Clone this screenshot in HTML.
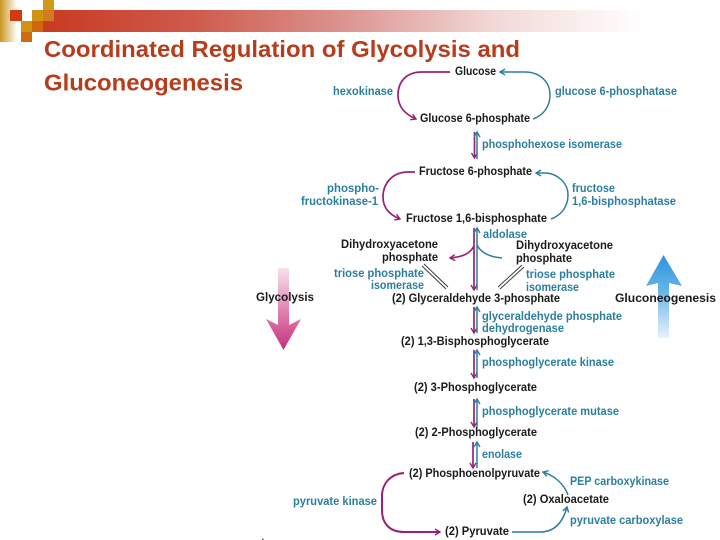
<!DOCTYPE html>
<html><head><meta charset="utf-8">
<style>
html,body{margin:0;padding:0;background:#fff}
svg{display:block;filter:blur(.3px)}
text{font-family:"Liberation Sans",sans-serif;font-weight:bold}
.b{font-size:11.6px;fill:#1a1a1a}
.t{font-size:11.6px;fill:#2b7f9e}
.h{font-size:23.500px;fill:#b63c1c}
.m{fill:none;stroke:#9b2176;stroke-width:1.7}
.c{fill:none;stroke:#2d7d9f;stroke-width:1.5}
.d{fill:none;stroke:#333;stroke-width:.9}
</style></head><body>
<svg width="720" height="540" viewBox="0 0 720 540" xmlns="http://www.w3.org/2000/svg">
<defs>
<linearGradient id="bar" x1="0" x2="1" y1="0" y2="0">
<stop offset="0" stop-color="#c93a22"/><stop offset=".25" stop-color="#cf5a4c"/><stop offset=".5" stop-color="#db9490"/><stop offset=".75" stop-color="#f2d8d6"/><stop offset="1" stop-color="#fff"/></linearGradient>
<linearGradient id="gold" x1="0" x2="1" y1="0" y2="0"><stop offset="0" stop-color="#c8961e"/><stop offset="1" stop-color="#fff"/></linearGradient>
<linearGradient id="pink" x1="0" x2="0" y1="0" y2="1"><stop offset="0" stop-color="#f6e3ec"/><stop offset=".6" stop-color="#dd74a8"/><stop offset="1" stop-color="#c2307e"/></linearGradient>
<linearGradient id="blue" x1="0" x2="0" y1="0" y2="1"><stop offset="0" stop-color="#2e93dc"/><stop offset=".4" stop-color="#62b2e6"/><stop offset="1" stop-color="#e6f3fb"/></linearGradient>
<marker id="am" markerWidth="8" markerHeight="8" refX="6" refY="3.5" orient="auto" markerUnits="userSpaceOnUse"><path d="M1 0.5L6 3.5L1 6.5" fill="none" stroke="#9b2176" stroke-width="1.4"/></marker>
<marker id="ac" markerWidth="8" markerHeight="8" refX="6" refY="3.5" orient="auto" markerUnits="userSpaceOnUse"><path d="M1 0.5L6 3.5L1 6.5" fill="none" stroke="#2d7d9f" stroke-width="1.4"/></marker>
</defs>

<rect x="43" y="10" width="600" height="22" fill="url(#bar)"/>
<rect x="0" y="0" width="17" height="42" fill="url(#gold)"/>
<rect x="10" y="10" width="12" height="11" fill="#d23a10"/>
<rect x="32" y="10" width="11" height="11" fill="#cf9412"/>
<rect x="43" y="0" width="11" height="10" fill="#cf9a1a"/>
<rect x="43" y="10" width="11" height="11" fill="#d67a22"/>
<rect x="21" y="21" width="11" height="11" fill="#cf9412"/>
<rect x="32" y="21" width="11" height="11" fill="#d2660f"/>
<rect x="21" y="32" width="11" height="10" fill="#cf6a12"/>

<text class="h" x="44" y="57" textLength="476" lengthAdjust="spacingAndGlyphs">Coordinated Regulation of Glycolysis and</text>
<text class="h" x="44" y="90.500" textLength="199" lengthAdjust="spacingAndGlyphs">Gluconeogenesis</text>

<!-- big arrows -->
<path d="M278 268H289V325L301 319L283.500 350L266 319L278 325Z" fill="url(#pink)"/>
<path d="M658 338V283L646 286L663.500 255L682 286L669 283V338Z" fill="url(#blue)"/>

<!-- connectors magenta -->
<path class="m" d="M450 72H422C406 72 398 82 398 95C398 107 405 114 416 119" marker-end="url(#am)"/>
<path class="m" d="M415 172H408C392 172 383 184 383 197C383 208 390 215 400 219" marker-end="url(#am)"/>
<path class="m" d="M474.500 132V158" marker-end="url(#am)"/>
<path class="m" d="M474 228V290" marker-end="url(#am)"/>
<path class="m" d="M474 246C470 254 462 257 450 258" marker-end="url(#am)"/>
<path class="m" d="M474 307V333" marker-end="url(#am)"/>
<path class="m" d="M474 350V378" marker-end="url(#am)"/>
<path class="m" d="M474 399V427" marker-end="url(#am)"/>
<path class="m" d="M473 442V468" marker-end="url(#am)"/>
<path class="m" style="stroke-width:2" d="M404 473C390 474 382 484 382 496V510C382 524 390 532 404 532H440" marker-end="url(#am)"/>

<!-- connectors teal -->
<path class="c" d="M533 119C544 115 550 106 550 95C550 82 540 72 525 72H500" marker-end="url(#ac)"/>
<path class="c" d="M551 219C562 215 568 206 568 195C568 182 556 173 545 173H536" marker-end="url(#ac)"/>
<path class="c" d="M477 159V132" marker-end="url(#ac)"/>
<path class="c" d="M477 290V228" marker-end="url(#ac)"/>
<path class="c" d="M477 245C481 253 490 257 502 258"/>
<path class="c" d="M477 333V307" marker-end="url(#ac)"/>
<path class="c" d="M477 378V350" marker-end="url(#ac)"/>
<path class="c" d="M477 427V399" marker-end="url(#ac)"/>
<path class="c" d="M477 468V442" marker-end="url(#ac)"/>
<path class="c" d="M512 532H540C555 532 563 522 567 507" marker-end="url(#ac)"/>
<path class="c" d="M568 495C564 484 555 476 543 472" marker-end="url(#ac)"/>

<!-- double lines -->
<path class="d" d="M422 266L446 289M424 264L448 287"/>
<path class="d" d="M498 287L522 265M500 289L524 267"/>

<!-- black labels -->
<text class="b" x="455" y="75" textLength="41" lengthAdjust="spacingAndGlyphs">Glucose</text>
<text class="b" x="420" y="122" textLength="110" lengthAdjust="spacingAndGlyphs">Glucose 6-phosphate</text>
<text class="b" x="419" y="175" textLength="113" lengthAdjust="spacingAndGlyphs">Fructose 6-phosphate</text>
<text class="b" x="406" y="222" textLength="141" lengthAdjust="spacingAndGlyphs">Fructose 1,6-bisphosphate</text>
<text class="b" x="341" y="248" textLength="97" lengthAdjust="spacingAndGlyphs">Dihydroxyacetone</text>
<text class="b" x="382" y="261" textLength="56" lengthAdjust="spacingAndGlyphs">phosphate</text>
<text class="b" x="516" y="249" textLength="97" lengthAdjust="spacingAndGlyphs">Dihydroxyacetone</text>
<text class="b" x="516" y="262" textLength="56" lengthAdjust="spacingAndGlyphs">phosphate</text>
<text class="b" x="392" y="302" textLength="168" lengthAdjust="spacingAndGlyphs">(2) Glyceraldehyde 3-phosphate</text>
<text class="b" x="401" y="345" textLength="148" lengthAdjust="spacingAndGlyphs">(2) 1,3-Bisphosphoglycerate</text>
<text class="b" x="414" y="391" textLength="123" lengthAdjust="spacingAndGlyphs">(2) 3-Phosphoglycerate</text>
<text class="b" x="415" y="436" textLength="122" lengthAdjust="spacingAndGlyphs">(2) 2-Phosphoglycerate</text>
<text class="b" x="409" y="477" textLength="131" lengthAdjust="spacingAndGlyphs">(2) Phosphoenolpyruvate</text>
<text class="b" x="523" y="503" textLength="86" lengthAdjust="spacingAndGlyphs">(2) Oxaloacetate</text>
<text class="b" x="445" y="535" textLength="64" lengthAdjust="spacingAndGlyphs">(2) Pyruvate</text>
<text class="b" x="256" y="301" textLength="58" lengthAdjust="spacingAndGlyphs">Glycolysis</text>
<text class="b" x="615" y="302" textLength="101" lengthAdjust="spacingAndGlyphs">Gluconeogenesis</text>

<!-- teal labels -->
<text class="t" x="333" y="95" textLength="60" lengthAdjust="spacingAndGlyphs">hexokinase</text>
<text class="t" x="555" y="95" textLength="122" lengthAdjust="spacingAndGlyphs">glucose 6-phosphatase</text>
<text class="t" x="482" y="148" textLength="140" lengthAdjust="spacingAndGlyphs">phosphohexose isomerase</text>
<text class="t" x="327" y="192" textLength="52" lengthAdjust="spacingAndGlyphs">phospho-</text>
<text class="t" x="301" y="205" textLength="77" lengthAdjust="spacingAndGlyphs">fructokinase-1</text>
<text class="t" x="572" y="192" textLength="43" lengthAdjust="spacingAndGlyphs">fructose</text>
<text class="t" x="572" y="205" textLength="104" lengthAdjust="spacingAndGlyphs">1,6-bisphosphatase</text>
<text class="t" x="483" y="238" textLength="44" lengthAdjust="spacingAndGlyphs">aldolase</text>
<text class="t" x="334" y="277" textLength="90" lengthAdjust="spacingAndGlyphs">triose phosphate</text>
<text class="t" x="371" y="289" textLength="53" lengthAdjust="spacingAndGlyphs">isomerase</text>
<text class="t" x="526" y="278" textLength="89" lengthAdjust="spacingAndGlyphs">triose phosphate</text>
<text class="t" x="526" y="291" textLength="53" lengthAdjust="spacingAndGlyphs">isomerase</text>
<text class="t" x="482" y="320" textLength="140" lengthAdjust="spacingAndGlyphs">glyceraldehyde phosphate</text>
<text class="t" x="482" y="332" textLength="82" lengthAdjust="spacingAndGlyphs">dehydrogenase</text>
<text class="t" x="482" y="366" textLength="132" lengthAdjust="spacingAndGlyphs">phosphoglycerate kinase</text>
<text class="t" x="482" y="415" textLength="137" lengthAdjust="spacingAndGlyphs">phosphoglycerate mutase</text>
<text class="t" x="482" y="458" textLength="40" lengthAdjust="spacingAndGlyphs">enolase</text>
<text class="t" x="570" y="485" textLength="99" lengthAdjust="spacingAndGlyphs">PEP carboxykinase</text>
<text class="t" x="293" y="505" textLength="84" lengthAdjust="spacingAndGlyphs">pyruvate kinase</text>
<text class="t" x="570" y="524" textLength="113" lengthAdjust="spacingAndGlyphs">pyruvate carboxylase</text>

<rect x="262" y="538.500" width="1.500" height="1.500" fill="#555"/>
</svg>
</body></html>
